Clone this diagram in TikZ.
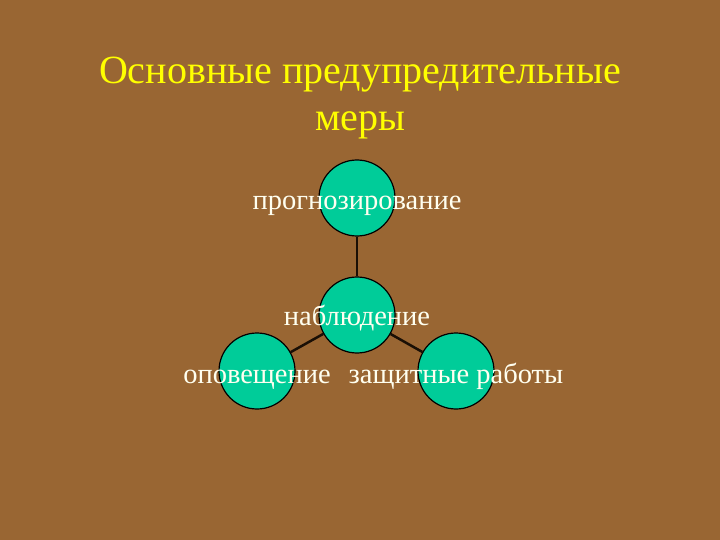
\documentclass[tikz,border=0pt]{standalone}
\usepackage{fontspec}
\setmainfont{Liberation Serif}
\definecolor{bgbrown}{HTML}{996633}
\definecolor{circfill}{HTML}{00CC99}
\definecolor{titleyellow}{HTML}{FFFF00}
\definecolor{labelcream}{HTML}{FFFFF0}
\definecolor{linkdark}{HTML}{1A0F05}
\tikzset{
  ball/.style={circle,draw=black,line width=1.2pt,fill=circfill,minimum size=76pt,inner sep=0pt},
  balltext/.style={text=labelcream,font=\fontsize{28.5}{30}\selectfont,inner sep=0pt,text height=0pt,text depth=0pt},
  link/.style={draw=linkdark,line width=2.5pt}
}
\begin{document}
\begin{tikzpicture}[x=1pt,y=-1pt]
      \fill[bgbrown] (0,0) rectangle (720,540);
      \useasboundingbox (0,0) rectangle (720,540);
      \node[text=titleyellow,align=center,font=\fontsize{40}{47}\selectfont] (title) at (360,98)
        {Основные предупредительные\\меры};
      \draw
        (357,198) node[ball,label={[balltext,yshift=-12pt]center:прогнозирование}] (prog){}
        (357,315) node[ball,label={[balltext,yshift=-10pt]center:наблюдение}] (nabl){}
        (257,371) node[ball,label={[balltext,yshift=-12pt]center:оповещение}] (opov){}
        (456,371) node[ball,label={[balltext,yshift=-12pt]center:защитные работы}] (zasch){};
      \begin{scope}[-]
        \draw[link] (prog) to (nabl);
        \draw[link] (nabl) to (opov);
        \draw[link] (nabl) to (zasch);
      \end{scope}
    \end{tikzpicture}
\end{document}
